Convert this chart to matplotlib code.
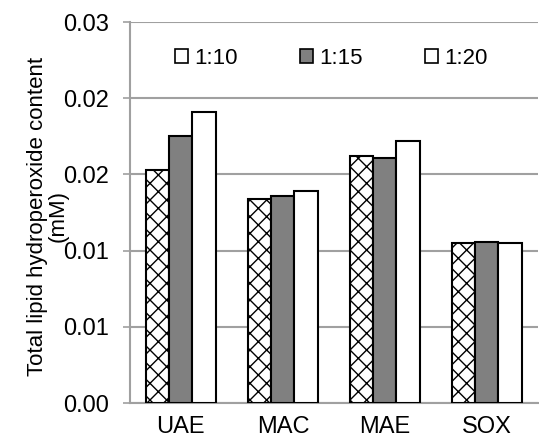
import numpy as np
import matplotlib.pyplot as plt

plt.rcParams['font.family'] = ['Liberation Sans', 'DejaVu Sans']
plt.rcParams['hatch.linewidth'] = 1.0

# data
methods = ['UAE', 'MAC', 'MAE', 'SOX']
ratios = ['1:10', '1:15', '1:20']
r_10 = [0.0153, 0.0134, 0.0162, 0.0105]
r_15 = [0.0175, 0.0136, 0.0161, 0.0106]
r_20 = [0.0191, 0.0139, 0.0172, 0.0105]
ytick_vals = [0, 0.005, 0.01, 0.015, 0.02, 0.025]
ytick_labels = ['0.00', '0.01', '0.01', '0.02', '0.02', '0.03']

fig = plt.figure(figsize=(5.39, 4.41), dpi=100)
ax = fig.add_axes([0.241, 0.086, 0.757, 0.864])

x = np.arange(len(methods))
w = 0.227
grid_c = '#a0a0a0'

ax.bar(x - w, r_10, w, color='white', edgecolor='black', linewidth=1.5,
       hatch='xx', zorder=3)
ax.bar(x, r_15, w, color='#808080', edgecolor='black', linewidth=1.5, zorder=3)
ax.bar(x + w, r_20, w, color='white', edgecolor='black', linewidth=1.5, zorder=3)

# legend shows plain boxes
handles = [plt.Rectangle((0, 0), 1, 1, facecolor=c, edgecolor='black', lw=1.2)
           for c in ['white', '#808080', 'white']]
ax.legend(handles, ratios, loc='center', ncol=3, frameon=False,
          fontsize=16, handlelength=0.6, handleheight=0.6, handletextpad=0.27,
          columnspacing=2.8, borderpad=0, bbox_to_anchor=(0.494, 0.905))

ax.set_xlim(-0.5, 3.5)
ax.set_ylim(0, 0.025)
ax.set_yticks(ytick_vals)
ax.set_yticklabels(ytick_labels)
ax.set_xticks(x)
ax.set_xticklabels(methods)
ax.tick_params(axis='y', labelsize=17, length=5, color=grid_c, width=1.2, pad=10)
ax.tick_params(axis='x', labelsize=17, length=0, pad=9)
ax.yaxis.grid(True, color=grid_c, linewidth=1.5, zorder=0)
ax.set_axisbelow(True)
for s in ['top', 'right']:
    ax.spines[s].set_visible(False)
for s in ['left', 'bottom']:
    ax.spines[s].set_color(grid_c)
    ax.spines[s].set_linewidth(1.5)

ax.set_ylabel('Total lipid hydroperoxide content\n(mM)', fontsize=16,
              linespacing=1.0)
ax.yaxis.set_label_coords(-0.15, 0.49)

fig.savefig('out.png', dpi=100)
